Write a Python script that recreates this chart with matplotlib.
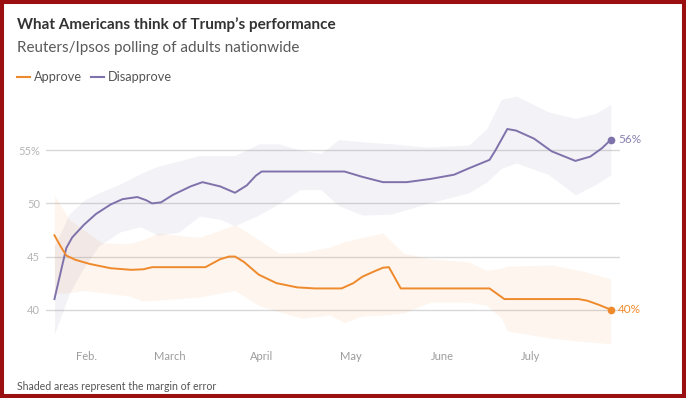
import pandas as pd
import matplotlib
matplotlib.use("Agg")
import matplotlib.pyplot as plt
from matplotlib.lines import Line2D
from matplotlib.patches import Rectangle

# -----------------------------
# DATA
# -----------------------------

approve_dates = [
    "2025-01-21", "2025-01-23", "2025-01-25", "2025-01-28", "2025-02-02",
    "2025-02-09", "2025-02-16", "2025-02-20", "2025-02-23", "2025-03-13",
    "2025-03-15", "2025-03-18", "2025-03-21", "2025-03-23", "2025-03-26",
    "2025-03-31", "2025-04-06", "2025-04-13", "2025-04-19", "2025-04-28",
    "2025-05-02", "2025-05-05", "2025-05-09", "2025-05-12", "2025-05-14",
    "2025-05-18", "2025-06-17", "2025-06-19", "2025-06-22", "2025-07-17",
    "2025-07-20", "2025-07-24", "2025-07-28",
]
approve = [
    47.0, 46.0, 45.1, 44.7, 44.3,
    43.9, 43.75, 43.8, 44.0, 44.0,
    44.3, 44.75, 45.0, 45.0, 44.5,
    43.3, 42.5, 42.1, 42.0, 42.0,
    42.5, 43.1, 43.6, 43.95, 44.0,
    42.0, 42.0, 41.6, 41.0, 41.0,
    40.85, 40.45, 40.0,
]

disapprove_dates = [
    "2025-01-21", "2025-01-25", "2025-01-27", "2025-01-31", "2025-02-04",
    "2025-02-09", "2025-02-13", "2025-02-18", "2025-02-21", "2025-02-23",
    "2025-02-26", "2025-03-02", "2025-03-08", "2025-03-12", "2025-03-18",
    "2025-03-23", "2025-03-27", "2025-03-30", "2025-04-01", "2025-04-29",
    "2025-05-05", "2025-05-12", "2025-05-20", "2025-05-28", "2025-06-05",
    "2025-06-10", "2025-06-17", "2025-06-19", "2025-06-23", "2025-06-26",
    "2025-07-02", "2025-07-08", "2025-07-16", "2025-07-21", "2025-07-25",
    "2025-07-28",
]
disapprove = [
    41.0, 45.8, 46.8, 48.0, 49.0,
    49.9, 50.4, 50.6, 50.3, 50.0,
    50.1, 50.8, 51.6, 52.0, 51.6,
    51.0, 51.7, 52.6, 53.0, 53.0,
    52.5, 52.0, 52.0, 52.3, 52.7,
    53.3, 54.1, 55.0, 57.0, 56.85,
    56.1, 54.9, 54.0, 54.4, 55.2,
    56.0,
]

# margin of error bands
approve_band_dates = [
    "2025-01-21", "2025-01-26", "2025-01-31", "2025-02-06", "2025-02-15",
    "2025-02-20", "2025-02-25", "2025-03-11", "2025-03-23", "2025-03-31",
    "2025-04-07", "2025-04-15", "2025-04-24", "2025-04-29", "2025-05-05",
    "2025-05-12", "2025-05-19", "2025-05-28", "2025-06-10", "2025-06-16",
    "2025-06-21", "2025-06-23", "2025-07-08", "2025-07-19", "2025-07-28",
]
approve_upper = [
    50.8, 48.5, 47.5, 46.3, 46.2,
    46.6, 47.2, 46.8, 48.0, 46.6,
    45.3, 45.4, 45.9, 46.4, 46.8,
    47.2, 45.3, 44.8, 44.5, 43.7,
    43.9, 44.1, 44.2, 43.6, 42.9,
]
approve_lower = [
    41.5, 41.6, 41.8, 41.6, 41.3,
    40.8, 40.9, 41.2, 41.8, 40.4,
    39.8, 39.2, 39.5, 38.8, 39.4,
    39.5, 39.7, 40.7, 40.7, 40.4,
    39.2, 38.0, 37.3, 37.0, 36.8,
]

disapprove_band_dates = [
    "2025-01-21", "2025-01-26", "2025-01-31", "2025-02-05", "2025-02-12",
    "2025-02-19", "2025-02-25", "2025-03-04", "2025-03-11", "2025-03-18",
    "2025-03-23", "2025-03-31", "2025-04-07", "2025-04-14", "2025-04-21",
    "2025-04-27", "2025-05-05", "2025-05-15", "2025-05-27", "2025-06-10",
    "2025-06-16", "2025-06-21", "2025-06-26", "2025-07-07", "2025-07-16",
    "2025-07-23", "2025-07-28",
]
disapprove_upper = [
    46.0, 49.0, 50.3, 51.0, 51.8,
    52.8, 53.5, 54.0, 54.5, 54.5,
    54.5, 55.6, 55.6, 55.0, 54.7,
    56.0, 55.8, 55.6, 55.3, 55.5,
    57.0, 59.8, 60.1, 58.6, 58.0,
    58.5, 59.3,
]
disapprove_lower = [
    37.7, 41.5, 44.0, 46.0, 47.3,
    47.8, 47.0, 47.3, 48.8, 48.5,
    47.9, 48.9, 50.0, 51.3, 51.3,
    49.8, 48.9, 49.0, 50.0, 51.0,
    52.0, 53.3, 53.8, 52.7, 50.8,
    51.8, 52.7,
]

month_ticks = ["2025-02-01", "2025-03-01", "2025-04-01", "2025-05-01", "2025-06-01", "2025-07-01"]
month_labels = ["Feb.", "March", "April", "May", "June", "July"]
y_ticks = [40, 45, 50, 55]
y_labels = ["40", "45", "50", "55%"]

# -----------------------------
# STYLE
# -----------------------------

ORANGE = "#ef8a2c"
PURPLE = "#7f72ab"
W, H = 686, 398
FONT = ["Lato", "DejaVu Sans"]

plt.rcParams["font.family"] = FONT

fig = plt.figure(figsize=(W / 100, H / 100), dpi=100)
fig.patch.set_facecolor("white")

# axes placed in pixels: left 46, right 620, top 86.5, bottom 352.2
ax = fig.add_axes([46 / W, (H - 352.2) / H, 574 / W, 265.7 / H])
ax.set_facecolor("none")

# bands
ax.fill_between(pd.to_datetime(disapprove_band_dates), disapprove_lower, disapprove_upper,
                color=PURPLE, alpha=0.09, lw=0)
ax.fill_between(pd.to_datetime(approve_band_dates), approve_lower, approve_upper,
                color=ORANGE, alpha=0.08, lw=0)

# lines
ax.plot(pd.to_datetime(disapprove_dates), disapprove, color=PURPLE, lw=1.4, solid_joinstyle="round")
ax.plot(pd.to_datetime(approve_dates), approve, color=ORANGE, lw=1.4, solid_joinstyle="round")

# end dots + labels
last_d = pd.to_datetime(disapprove_dates[-1])
last_a = pd.to_datetime(approve_dates[-1])
ax.plot([last_d], [disapprove[-1]], "o", color=PURPLE, ms=4.5)
ax.plot([last_a], [approve[-1]], "o", color=ORANGE, ms=4.5)
ax.annotate(f"{disapprove[-1]:.0f}%", (last_d, disapprove[-1]), xytext=(5, 0),
            textcoords="offset points", va="center", ha="left", color="#8a80b2", fontsize=8.5)
ax.annotate(f"{approve[-1]:.0f}%", (last_a, approve[-1]), xytext=(5, 0),
            textcoords="offset points", va="center", ha="left", color=ORANGE, fontsize=8.5)

ax.set_xlim(pd.Timestamp("2025-01-18 03:36"), pd.Timestamp("2025-07-31 01:40"))
ax.set_ylim(36, 61)

ax.set_yticks(y_ticks)
ax.set_yticklabels(y_labels)
ax.tick_params(axis="y", length=0, pad=4.3, labelcolor="#b5b5b5", labelsize=8)
ax.yaxis.grid(True, color="#d8d8d8", lw=1)
ax.set_axisbelow(True)

ax.set_xticks([])
for d, lab in zip(month_ticks, month_labels):
    ax.text(pd.Timestamp(d), -0.018, lab, transform=ax.get_xaxis_transform(),
            ha="center", va="center", color="#9c9c9c", fontsize=8)

for s in ax.spines.values():
    s.set_visible(False)

# -----------------------------
# TEXT
# -----------------------------

fig.text(17 / W, 1 - 29.3 / H, "What Americans think of Trump’s performance",
         fontsize=11, fontweight="bold", color="#333333", va="baseline")
fig.text(17 / W, 1 - 51.7 / H, "Reuters/Ipsos polling of adults nationwide",
         fontsize=11, color="#5a5a5a", va="baseline")

# legend
fig.add_artist(Line2D([17 / W, 30 / W], [1 - 77 / H] * 2, color=ORANGE, lw=1.5))
fig.text(34 / W, 1 - 77 / H, "Approve", fontsize=9.2, color="#555555", va="center")
fig.add_artist(Line2D([91 / W, 104 / W], [1 - 77 / H] * 2, color=PURPLE, lw=1.5))
fig.text(108 / W, 1 - 77 / H, "Disapprove", fontsize=9.2, color="#555555", va="center")

fig.text(17 / W, 1 - 386 / H, "Shaded areas represent the margin of error",
         fontsize=7.6, color="#555555", va="center")

# screenshot frame
fig.add_artist(Rectangle((0, 0), 1, 1, transform=fig.transFigure, fill=False,
                         edgecolor="#9a0f0f", lw=5.8))

fig.savefig("out.png", dpi=100)
